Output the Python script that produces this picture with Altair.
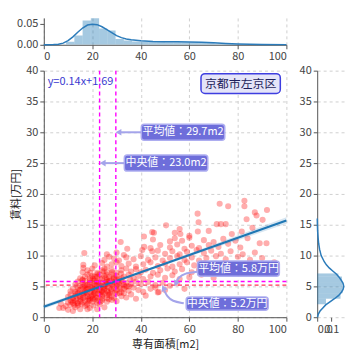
import altair as alt
import pandas as pd

FONT = "Noto Sans CJK JP"

# ---- scatter points: (専有面積 m2, 賃料 万円) ----
pts_low = [
    (8, 1.5), (10, 1.2), (12, 1.0), (13, 1.6), (15, 1.3), (17, 1.8), (11, 2.0), (14, 1.9), (19, 1.5), (22, 1.3),
    (25, 1.6), (9, 1.8), (6.4, 1.5), (18, 1.3),
    (10, 2.4), (11, 2.8), (12, 2.3), (13, 2.6), (14, 2.2), (15, 2.9), (16, 2.4), (17, 2.7), (18, 2.2), (19, 2.8),
    (20, 2.5), (21, 2.9), (22, 2.3), (24, 2.7), (26, 2.5), (28, 2.8), (12.5, 2.0), (15.5, 2.1), (18.5, 2.6),
    (23, 2.1), (30, 2.6), (7, 2.2),
    (10, 3.3), (11, 3.7), (12, 3.1), (13, 3.5), (14, 3.9), (15, 3.2), (16, 3.6), (17, 3.3), (18, 3.8), (19, 3.1),
    (20, 3.5), (21, 3.9), (22, 3.2), (23, 3.7), (24, 3.4), (25, 3.9), (26, 3.1), (27, 3.6), (28, 3.3), (30, 3.8),
    (32, 3.4), (34, 3.2), (36, 3.7), (13.5, 3.0), (16.5, 3.9), (19.5, 3.4), (21.5, 3.2), (38, 3.0), (42, 3.5), (33, 3.9),
]
pts_core = [
    (11, 4.2), (12, 4.6), (13, 4.1), (14, 4.8), (15, 4.4), (16, 4.9), (17, 4.2), (18, 4.6), (19, 4.1), (20, 4.7),
    (21, 4.3), (22, 4.9), (23, 4.5), (24, 4.1), (25, 4.6), (26, 4.3), (27, 4.8), (28, 4.2), (29, 4.7), (30, 4.4),
    (31, 4.9), (32, 4.1), (33, 4.6), (35, 4.3), (37, 4.8), (39, 4.4), (41, 4.1), (44, 4.6), (47, 4.0), (20.5, 4.0),
    (24.5, 4.9), (17.5, 4.5), (26.5, 4.0), (50, 4.4), (58, 4.6), (46, 4.8), (47.4, 4.1),
    (13, 5.3), (14, 5.8), (15, 5.1), (16, 5.5), (17, 5.9), (18, 5.2), (19, 5.6), (20, 5.0), (21, 5.4), (22, 5.8),
    (23, 5.2), (24, 5.6), (25, 5.0), (26, 5.4), (27, 5.9), (28, 5.3), (29, 5.7), (30, 5.1), (31, 5.5), (32, 5.9),
    (33, 5.2), (34, 5.6), (36, 5.3), (38, 5.8), (40, 5.4), (43, 5.7), (46, 5.2), (49, 5.6), (52, 5.1), (55, 5.5),
    (16, 6.0), (22.5, 5.5), (27.5, 5.5), (35, 5.0),
    (15.8, 4.0), (17.2, 4.8), (18.8, 5.4), (19.6, 4.4), (20.8, 5.9), (21.6, 4.6), (22.4, 3.8), (23.6, 5.1),
    (24.8, 4.4), (25.6, 5.7), (26.4, 4.9), (27.2, 3.9), (28.6, 5.1), (29.4, 4.0), (30.6, 5.8), (31.4, 4.6),
    (32.6, 5.4), (18.2, 3.4), (20.2, 3.0), (22.2, 2.7), (24.2, 3.0), (26.8, 2.9), (16.6, 5.0), (19.0, 6.0),
    (21.0, 6.6), (23.2, 6.2), (25.4, 6.4), (27.6, 6.0), (29.8, 6.2), (14.4, 4.4), (13.2, 3.8), (12.2, 2.8),
    (11.4, 2.5), (17.8, 2.0), (20.4, 1.9), (34.2, 5.0), (35.6, 6.1), (31.8, 7.1), (28.2, 7.3), (24.6, 7.4),
    (22.2, 7.0), (19.2, 7.2), (26.0, 5.8), (23.8, 4.2), (21.2, 5.1),
    (14.6, 3.4), (16.2, 3.1), (17.6, 4.0), (19.2, 4.9), (20.6, 3.7), (21.8, 5.6), (22.8, 4.3), (24.0, 3.6),
    (25.2, 5.3), (26.2, 3.6), (27.8, 4.5), (28.8, 6.4), (30.2, 5.4), (31.2, 3.9), (32.2, 6.3), (33.6, 4.9),
    (18.4, 2.9), (15.2, 2.6), (13.8, 2.3), (23.4, 2.5), (25.8, 6.9), (20.2, 6.3), (17.0, 5.2), (29.0, 3.1),
]
pts_mid = [
    (15, 6.3), (16, 6.1), (17, 6.6), (18, 6.9), (19, 6.3), (20, 6.7), (21, 6.2), (22, 6.6), (23, 6.9), (24, 6.3),
    (25, 6.7), (26, 6.1), (27, 6.5), (28, 6.9), (29, 6.3), (30, 6.7), (31, 6.2), (33, 6.6), (35, 6.9), (37, 6.3),
    (39, 6.7), (41, 6.2), (44, 6.6), (47, 6.9), (50, 6.4), (53, 6.8), (56, 6.2), (60, 6.5), (65, 6.9), (70, 6.4),
    (16, 7.3), (18, 7.6), (20, 7.9), (22, 7.2), (24, 7.6), (25, 7.9), (26, 7.3), (28, 7.7), (30, 7.2), (32, 7.6),
    (34, 7.9), (36, 7.4), (38, 7.8), (40, 7.3), (42, 7.7), (45, 7.2), (48, 7.6), (51, 7.9), (54, 7.4), (57, 7.8),
    (61, 7.3), (64, 7.7), (68, 7.2), (72, 7.6), (76, 7.4), (80, 7.8), (86, 7.5), (92, 7.3),
    (16.3, 8.5), (16.3, 8.0), (21, 8.4), (24, 8.8), (26, 8.2), (28, 8.6), (30, 8.9), (32, 8.3), (35, 8.7), (38, 8.2),
    (41, 8.6), (44, 8.9), (47, 8.3), (50, 8.7), (53, 8.2), (56, 8.6), (59, 8.9), (62, 8.4), (66, 8.8), (70, 8.3),
    (74, 8.7), (78, 8.2), (83, 8.6), (88, 8.4), (95, 8.9),
    (25, 9.3), (27, 9.8), (29, 9.5), (31, 9.2), (34, 9.7), (37, 9.4), (40, 9.9), (43, 9.3), (46, 9.7), (49, 9.2),
    (52, 9.6), (55, 9.9), (58, 9.3), (61, 9.7), (64, 9.2), (67, 9.6), (71, 9.9), (75, 9.4), (80, 9.8), (85, 9.3),
    (90, 9.6),
]
pts_high = [
    (16.7, 10.4), (26, 10.2), (30, 10.5), (33, 10.1), (40.6, 10.9), (44.7, 10.7), (47, 10.8), (50, 10.3), (53, 10.7),
    (56, 10.2), (59, 10.6), (63, 10.9), (66, 10.4), (69, 10.8), (73, 10.3), (77, 10.7), (82, 10.2), (87, 10.5),
    (34.4, 11.1), (41.4, 11.4), (44, 11.2), (48, 11.7), (52, 11.3), (55, 11.8), (58, 11.1), (61, 11.6), (64, 11.2),
    (68, 11.7), (72, 11.4), (76, 11.9), (81, 11.3), (89, 12.0), (91.8, 12.0),
    (31.7, 12.2), (45, 12.6), (52, 12.3), (54, 12.8), (57, 12.4), (60, 12.9), (66, 12.5), (70, 12.2), (74, 12.7),
    (79, 12.4), (84, 12.8), (41.3, 13.1),
    (44.7, 13.8), (45.4, 13.7), (56, 14.3), (56.3, 13.5), (63.5, 13.9), (77.5, 13.5), (81.6, 13.9), (50.4, 14.9),
    (54, 13.7), (60, 13.2), (68, 14.0), (86, 14.5),
    (63.8, 15.4), (71.3, 15.1), (73, 15.1), (75, 15.1), (63.4, 16.8), (83.6, 15.9), (90.2, 15.8), (87, 17.0),
    (87.7, 16.5), (92, 17.4),
    (72.5, 18.4), (76, 18.0), (82.7, 18.9), (82.7, 18.0),
]

# ---- regression ----
reg_slope = 0.14
reg_intercept = 1.69
band_x = [0, 10, 20, 30, 40, 50, 60, 70, 80, 90, 100]
band_half = [0.35, 0.27, 0.2, 0.16, 0.16, 0.2, 0.26, 0.32, 0.39, 0.46, 0.53]

# ---- reference lines ----
area_lines = [23.0, 29.7]          # 中央値, 平均値
rent_lines = [5.8, 5.2]            # 平均値, 中央値
rent_line_colors = ["#ff00ff", "#ff3355"]

# ---- top marginal (area distribution) ----
hist_area_start = [5.8, 9.2, 12.6, 16.0, 19.4, 22.8, 26.2, 29.6, 33.0, 36.4, 39.8, 43.2, 46.6, 50.0, 53.4,
                   56.8, 60.2, 63.6, 67.0, 70.4, 73.8, 77.2, 80.6, 84.0, 87.4, 90.8, 94.2, 97.6]
hist_area_dens = [0.001, 0.007, 0.022, 0.058, 0.063, 0.039, 0.034, 0.014, 0.010, 0.008, 0.008, 0.007, 0.007,
                  0.006, 0.006, 0.006, 0.006, 0.005, 0.004, 0.003, 0.003, 0.002, 0.002, 0.001, 0.001, 0.001,
                  0.001, 0.0005]
hist_area_width = 3.4
kde_area_x = [0, 4, 6, 8, 10, 12, 14, 16, 18, 20, 22, 24, 26, 28, 30, 32, 34, 36, 40, 45, 50, 55, 60, 65,
              70, 75, 80, 85, 90, 100]
kde_area_d = [0.0003, 0.0008, 0.0015, 0.004, 0.010, 0.019, 0.030, 0.040, 0.047, 0.049, 0.048, 0.043, 0.036,
              0.029, 0.022, 0.017, 0.014, 0.012, 0.0095, 0.008, 0.0075, 0.007, 0.0065, 0.006, 0.0048, 0.0032,
              0.002, 0.0012, 0.0008, 0.0004]

# ---- right marginal (rent distribution) ----
hist_rent_start = [2.1, 3.0, 3.9, 4.8, 5.7, 6.6]
hist_rent_end = [3.0, 3.9, 4.8, 5.7, 6.6, 7.1]
hist_rent_dens = [0.062, 0.165, 0.18, 0.18, 0.175, 0.15]
kde_rent_y = [0, 0.5, 1, 1.5, 2, 2.5, 3, 3.5, 4, 4.5, 5, 5.5, 6, 6.5, 7, 7.5, 8, 8.5, 9, 10, 11, 12, 13, 14, 15, 16]
kde_rent_d = [0.002, 0.008, 0.02, 0.04, 0.06, 0.09, 0.122, 0.15, 0.17, 0.183, 0.188, 0.183, 0.17, 0.155,
              0.135, 0.11, 0.085, 0.065, 0.05, 0.028, 0.017, 0.01, 0.006, 0.003, 0.0015, 0.0005]

# ---- annotations ----
box_labels = ["平均値：29.7m2", "中央値：23.0m2", "平均値：5.8万円", "中央値：5.2万円"]
box_x1 = [40.2, 33.2, 63.4, 58.7]
box_x2 = [74.6, 67.6, 97.1, 92.5]
box_y1 = [28.7, 23.7, 6.65, 1.13]
box_y2 = [31.3, 26.3, 9.1, 3.27]
arrow_id = [0, 0, 1, 1, 2, 2, 2, 2, 3, 3, 3, 3]
arrow_x = [40.2, 31.6, 33.2, 25.1, 63.4, 57.7, 55.6, 54.8, 57.7, 52.9, 50.8, 49.7]
arrow_y = [30.0, 30.0, 25.0, 25.0, 7.37, 7.1, 6.4, 5.9, 2.26, 2.6, 3.4, 4.3]
head_x = [31.2, 24.7, 54.6, 49.5]
head_y = [30.0, 25.0, 5.6, 4.6]
head_angle = [270, 270, 205, 335]
district = "京都市左京区"
district_box = [64.8, 97.5, 36.3, 39.5]
equation = "y=0.14x+1.69"
equation_pos = [1.6, 38.1]

# ================= build =================
pts = pd.DataFrame(pts_low + pts_core + pts_mid + pts_high, columns=["area", "rent"])
band = pd.DataFrame({"x": band_x,
                     "lo": [reg_intercept + reg_slope * v - h for v, h in zip(band_x, band_half)],
                     "hi": [reg_intercept + reg_slope * v + h for v, h in zip(band_x, band_half)]})
reg = pd.DataFrame({"x": [0, 100], "y": [reg_intercept, reg_intercept + reg_slope * 100]})

GRID = dict(gridColor="#c4c4c4", gridDash=[3, 3], gridWidth=0.8)
xs = alt.Scale(domain=[0, 100], nice=False)
ys = alt.Scale(domain=[0, 40], nice=False)
YT = [0, 5, 10, 15, 20, 25, 30, 35, 40]
xax = alt.Axis(values=[0, 20, 40, 60, 80, 100], title="専有面積[m2]", grid=True, **GRID)
yax = alt.Axis(values=YT, title="賃料[万円]", grid=True, **GRID)

def X(f):
    return alt.X(f, type="quantitative", scale=xs, axis=xax)

def Y(f):
    return alt.Y(f, type="quantitative", scale=ys, axis=yax)

scatter = alt.Chart(pts).mark_circle(size=38, color="#ff0000", opacity=0.32).encode(x=X("area"), y=Y("rent"))
band_l = alt.Chart(band).mark_area(color="#1f77b4", opacity=0.18).encode(x=X("x"), y=Y("lo"), y2="hi")
reg_l = alt.Chart(reg).mark_line(color="#1f77b4", strokeWidth=2).encode(x=X("x"), y=Y("y"))

vr = alt.Chart(pd.DataFrame({"v": area_lines})).mark_rule(
    stroke="#ff00ff", strokeDash=[4, 3], strokeWidth=1.4, opacity=1).encode(x=X("v"))
hr = alt.Chart(pd.DataFrame({"v": rent_lines, "c": rent_line_colors})).mark_rule(
    strokeDash=[4, 3], strokeWidth=1.4).encode(y=Y("v"), stroke=alt.Stroke("c:N", scale=None))

arr = pd.DataFrame({"id": arrow_id, "o": list(range(len(arrow_id))), "x": arrow_x, "y": arrow_y})
arrows = alt.Chart(arr).mark_line(color="#a4a4ea", strokeWidth=2, interpolate="basis").encode(
    x=X("x"), y=Y("y"), detail="id:N", order="o:Q")
heads = alt.Chart(pd.DataFrame({"x": head_x, "y": head_y, "a": head_angle})).mark_point(
    shape="triangle", filled=True, size=45, color="#a4a4ea", opacity=1).encode(
    x=X("x"), y=Y("y"), angle=alt.Angle("a:Q", scale=None))

bx = pd.DataFrame({"t": box_labels, "x1": box_x1, "x2": box_x2, "y1": box_y1, "y2": box_y2})
bx["cx"] = (bx.x1 + bx.x2) / 2
bx["cy"] = (bx.y1 + bx.y2) / 2
boxes = alt.Chart(bx).mark_rect(fill="#6767d9", stroke="#a9a9f0", strokeWidth=1.5, cornerRadius=3,
                                opacity=0.95).encode(x=X("x1"), x2="x2", y=Y("y1"), y2="y2")
box_t = alt.Chart(bx).mark_text(color="white", fontSize=11, font=FONT).encode(x=X("cx"), y=Y("cy"), text="t")

db = pd.DataFrame({"t": [district], "x1": [district_box[0]], "x2": [district_box[1]],
                   "y1": [district_box[2]], "y2": [district_box[3]]})
db["cx"] = (db.x1 + db.x2) / 2
db["cy"] = (db.y1 + db.y2) / 2
dbox = alt.Chart(db).mark_rect(fill="#e4e4f8", stroke="#3e3ee0", strokeWidth=1.5, cornerRadius=4).encode(
    x=X("x1"), x2="x2", y=Y("y1"), y2="y2")
dtext = alt.Chart(db).mark_text(color="#1e1e5a", fontSize=12, font=FONT).encode(x=X("cx"), y=Y("cy"), text="t")

eq = alt.Chart(pd.DataFrame({"t": [equation], "x": [equation_pos[0]], "y": [equation_pos[1]]})).mark_text(
    color="#3a3ad0", fontSize=11, align="left", font=FONT).encode(x=X("x"), y=Y("y"), text="t")

main = alt.layer(scatter, band_l, reg_l, vr, hr, arrows, heads, boxes, box_t, dbox, dtext, eq).properties(
    width=244, height=248)

# top marginal
th = pd.DataFrame({"s": hist_area_start, "d": hist_area_dens})
th["e"] = th.s + hist_area_width
tk = pd.DataFrame({"x": kde_area_x, "d": kde_area_d})
txax = alt.Axis(values=[0, 20, 40, 60, 80, 100], title=None, grid=True, **GRID)
tys = alt.Scale(domain=[0, 0.064], nice=False)
tyax = alt.Axis(values=[0, 0.05], format=".2f", title=None, grid=False)
top_h = alt.Chart(th).mark_rect(color="#1f77b4", opacity=0.4, clip=True).encode(
    x=alt.X("s:Q", scale=xs, axis=txax), x2="e", y=alt.Y("d:Q", scale=tys, axis=tyax), y2=alt.datum(0))
top_k = alt.Chart(tk).mark_line(color="#2b7bba", strokeWidth=1.5).encode(
    x=alt.X("x:Q", scale=xs, axis=txax), y=alt.Y("d:Q", scale=tys, axis=tyax))
top = alt.layer(top_h, top_k).properties(width=244, height=27)

# right marginal
rh = pd.DataFrame({"s": hist_rent_start, "e": hist_rent_end, "d": hist_rent_dens})
rk = pd.DataFrame({"y": kde_rent_y, "d": kde_rent_d, "o": list(range(len(kde_rent_y)))})
rxs = alt.Scale(domain=[0, 0.19], nice=False)
rxax = alt.Axis(values=[0, 0.1], format=".1f", title=None, grid=False, domain=False)
ryax = alt.Axis(values=YT, title=None, grid=True, **GRID)
r_h = alt.Chart(rh).mark_rect(color="#1f77b4", opacity=0.4).encode(
    y=alt.Y("s:Q", scale=ys, axis=ryax), y2="e", x=alt.X("d:Q", scale=rxs, axis=rxax), x2=alt.datum(0))
r_k = alt.Chart(rk).mark_line(color="#2b7bba", strokeWidth=1.5).encode(
    y=alt.Y("y:Q", scale=ys, axis=ryax), x=alt.X("d:Q", scale=rxs, axis=rxax), order="o:Q")
right = alt.layer(r_h, r_k).properties(width=27, height=248)

chart = alt.vconcat(
    top,
    alt.hconcat(main, right, spacing=31, bounds="flush"),
    spacing=26, bounds="flush",
).properties(padding={"left": 2, "top": 8, "right": 5, "bottom": 5}).configure_view(stroke=None).configure_axis(
    labelFont=FONT, titleFont=FONT, labelFontSize=11, titleFontSize=11, labelColor="#444",
    titleColor="#222", titleFontWeight="normal", domainColor="#555", tickColor="#555", tickSize=4,
    labelPadding=2, titlePadding=4,
)

chart.save("out.html", embed_options={"renderer": "svg", "actions": False})
